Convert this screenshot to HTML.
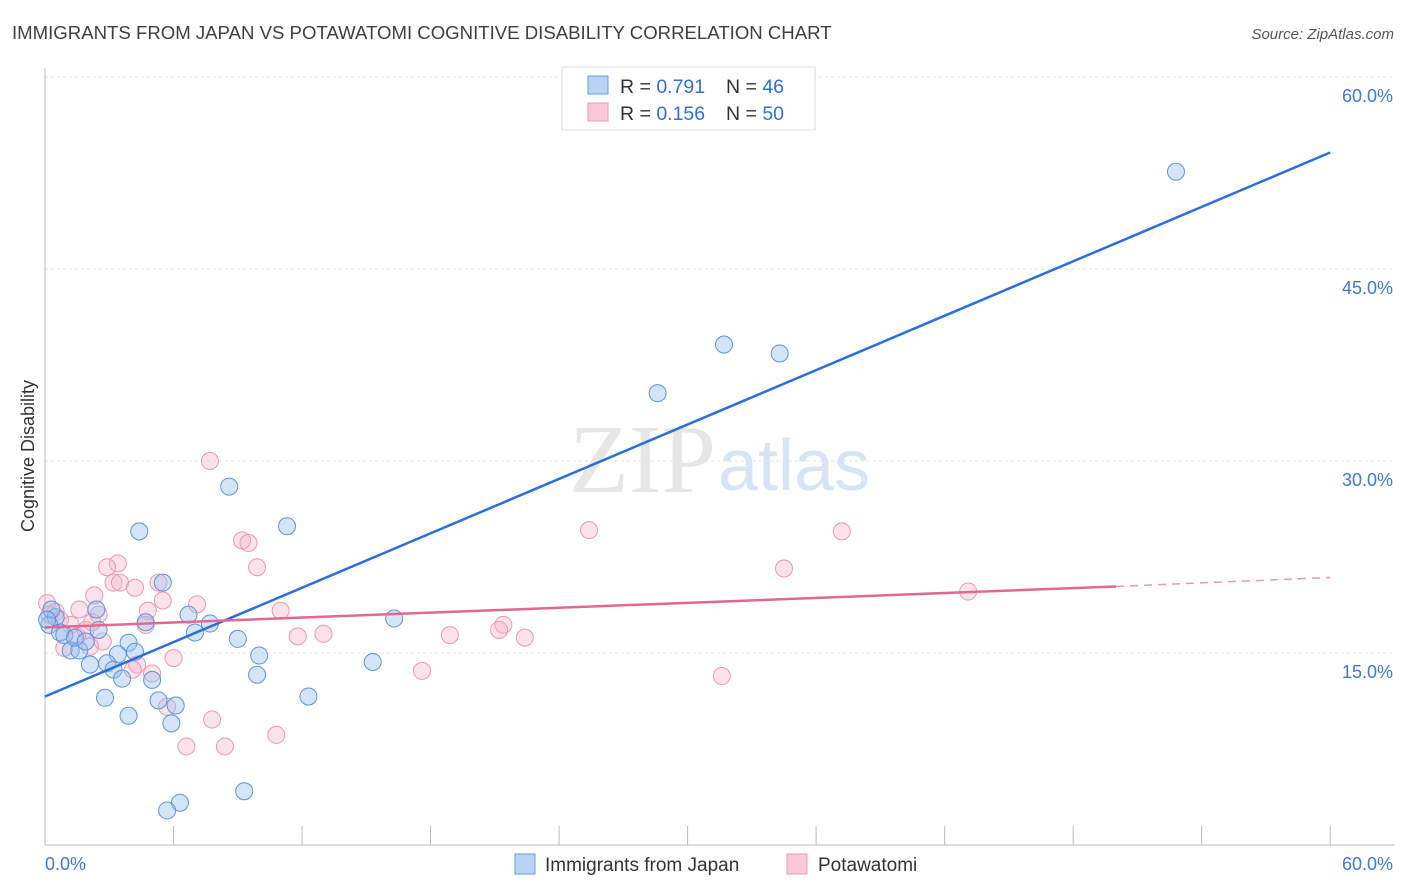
<!DOCTYPE html>
<html><head><meta charset="utf-8"><style>
body{margin:0;background:#fff;font-family:"Liberation Sans",sans-serif}
svg{display:block}
</style></head><body>
<svg id="c" width="1406" height="892">
<text x="12" y="39" font-size="18.6" fill="#3f3f3f">IMMIGRANTS FROM JAPAN VS POTAWATOMI COGNITIVE DISABILITY CORRELATION CHART</text>
<text x="1394" y="39" font-size="15" fill="#555" font-style="italic" text-anchor="end">Source: ZipAtlas.com</text>
<text x="34" y="456" font-size="18" fill="#333" text-anchor="middle" transform="rotate(-90 34 456)">Cognitive Disability</text>
<text x="716" y="492" font-size="98" fill="#e6e6e6" text-anchor="end" font-family="Liberation Serif,serif">ZIP</text>
<text x="718" y="490" font-size="72" fill="#d6e4f5">atlas</text>
<g id="grid"></g><g id="axes"></g><g id="pts"></g><g id="lines"></g>
<g>
<rect x="562" y="67" width="253" height="63" fill="#fff" stroke="#ddd"/>
<rect x="588" y="76" width="20" height="18" fill="#b9d3f5" stroke="#6b9de0"/>
<rect x="588" y="103" width="20" height="18" fill="#f9c9d8" stroke="#eb9ab3"/>
<text x="620" y="93" font-size="19.5" fill="#333">R = <tspan fill="#2f6fd6">0.791</tspan></text>
<text x="726" y="93" font-size="19.5" fill="#333">N = <tspan fill="#2f6fd6">46</tspan></text>
<text x="620" y="120" font-size="19.5" fill="#333">R = <tspan fill="#2f6fd6">0.156</tspan></text>
<text x="726" y="120" font-size="19.5" fill="#333">N = <tspan fill="#2f6fd6">50</tspan></text>
</g>
<g>
<rect x="515" y="854" width="20" height="20" fill="#b9d3f5" stroke="#6b9de0"/>
<text x="545" y="871" font-size="19" fill="#333">Immigrants from Japan</text>
<rect x="787" y="854" width="20" height="20" fill="#f9c9d8" stroke="#eb9ab3"/>
<text x="818" y="871" font-size="19" fill="#333">Potawatomi</text>
</g>
</svg>
<script>
const yTicks=[15,30,45,60];
const yTickLabels=["15.0%","30.0%","45.0%","60.0%"];
const xTickVals=[0,6,12,18,24,30,36,42,48,54,60];
const japanX=[52.8,31.7,34.3,28.6,8.6,11.3,4.4,5.5,16.3,6.7,4.7,7.7,7.0,9.0,3.9,15.3,10.0,4.2,3.4,1.2,1.6,2.1,2.9,3.2,3.6,5.0,9.9,12.3,2.8,5.3,6.1,3.9,5.9,9.3,6.3,5.7,2.4,2.5,0.5,0.2,0.7,0.9,1.4,1.9,0.3,0.1];
const japanY=[52.6,39.1,38.4,35.3,28.0,24.9,24.5,20.5,17.7,18.0,17.4,17.3,16.6,16.1,15.8,14.3,14.8,15.1,14.9,15.2,15.2,14.1,14.2,13.7,13.0,12.9,13.3,11.6,11.5,11.3,10.9,10.1,9.5,4.2,3.3,2.7,18.4,16.8,17.8,17.2,16.6,16.4,16.2,15.9,18.4,17.6];
const potX=[7.7,9.2,9.5,3.4,2.9,9.9,3.2,3.5,4.2,5.3,25.4,37.2,34.5,43.1,2.3,5.5,7.1,4.8,1.6,11.0,2.5,4.7,2.7,11.8,13.0,18.9,21.4,21.2,22.4,2.1,0.9,4.3,4.1,5.0,6.0,17.6,31.6,7.8,6.6,8.4,10.8,5.7,0.1,0.5,0.7,1.2,1.9,0.2,1.5,2.2];
const potY=[30.0,23.8,23.6,22.0,21.7,21.7,20.5,20.5,20.1,20.5,24.6,24.5,21.6,19.8,19.5,19.1,18.8,18.3,18.4,18.3,18.0,17.2,15.9,16.3,16.5,16.4,17.2,16.8,16.2,15.5,15.4,14.1,13.7,13.4,14.6,13.6,13.2,9.8,7.7,7.7,8.6,10.8,18.9,18.2,17.6,17.2,16.8,18.0,16.3,17.4];
const japanLine=[11.6,54.1];
const potLine=[17.0,20.2,20.9];
const NS="http://www.w3.org/2000/svg";
const X=v=>45+v*21.42, Y=v=>845-v*12.8;
function mk(t,a,p){const e=document.createElementNS(NS,t);for(const k in a)e.setAttribute(k,a[k]);p.appendChild(e);return e;}
const grid=document.getElementById('grid'),axes=document.getElementById('axes'),pts=document.getElementById('pts'),lines=document.getElementById('lines');
yTicks.forEach((v,i)=>{
 const l=mk('line',{x1:45,x2:1395,y1:Y(v),y2:Y(v),stroke:'#e4e4e4','stroke-dasharray':'3,3'},grid);
 
 
 const t=mk('text',{x:1393,y:Y(v)+25,'font-size':18,fill:'#3d78d8','text-anchor':'end'},grid);
 t.textContent=yTickLabels[i];
 
 
});
const ya=mk('line',{x1:45,x2:45,y1:68,y2:845,stroke:'#bbb'},axes);


const xa=mk('line',{x1:45,x2:1395,y1:845,y2:845,stroke:'#bbb'},axes);


xTickVals.forEach(v=>{const t=mk('line',{x1:X(v),x2:X(v),y1:826,y2:845,stroke:'#bbb'},axes);
 
 });
const xl0=mk('text',{x:45,y:870,'font-size':18,fill:'#3d78d8'},axes);xl0.textContent='0.0%';


const xl1=mk('text',{x:1393,y:870,'font-size':18,fill:'#3d78d8','text-anchor':'end'},axes);xl1.textContent='60.0%';


potX.forEach((v,i)=>{const c=mk('circle',{cx:X(v),cy:Y(potY[i]),r:8.5,fill:'rgba(246,176,198,0.35)',stroke:'#ec97b1','stroke-width':1},pts);
 
 });
japanX.forEach((v,i)=>{const c=mk('circle',{cx:X(v),cy:Y(japanY[i]),r:8.5,fill:'rgba(150,190,240,0.4)',stroke:'#5e93dd','stroke-width':1},pts);
 
 });
const bl=mk('line',{x1:X(0),y1:Y(japanLine[0]),x2:X(60),y2:Y(japanLine[1]),stroke:'#2a6fd8','stroke-width':2.5},lines);


const pl=mk('line',{x1:X(0),y1:Y(potLine[0]),x2:X(50),y2:Y(potLine[1]),stroke:'#e36890','stroke-width':2.5},lines);


const pd=mk('line',{x1:X(50),y1:Y(potLine[1]),x2:X(60),y2:Y(potLine[2]),stroke:'#e99ab3','stroke-width':1.5,'stroke-dasharray':'8,6'},lines);


</script>
</body></html>
